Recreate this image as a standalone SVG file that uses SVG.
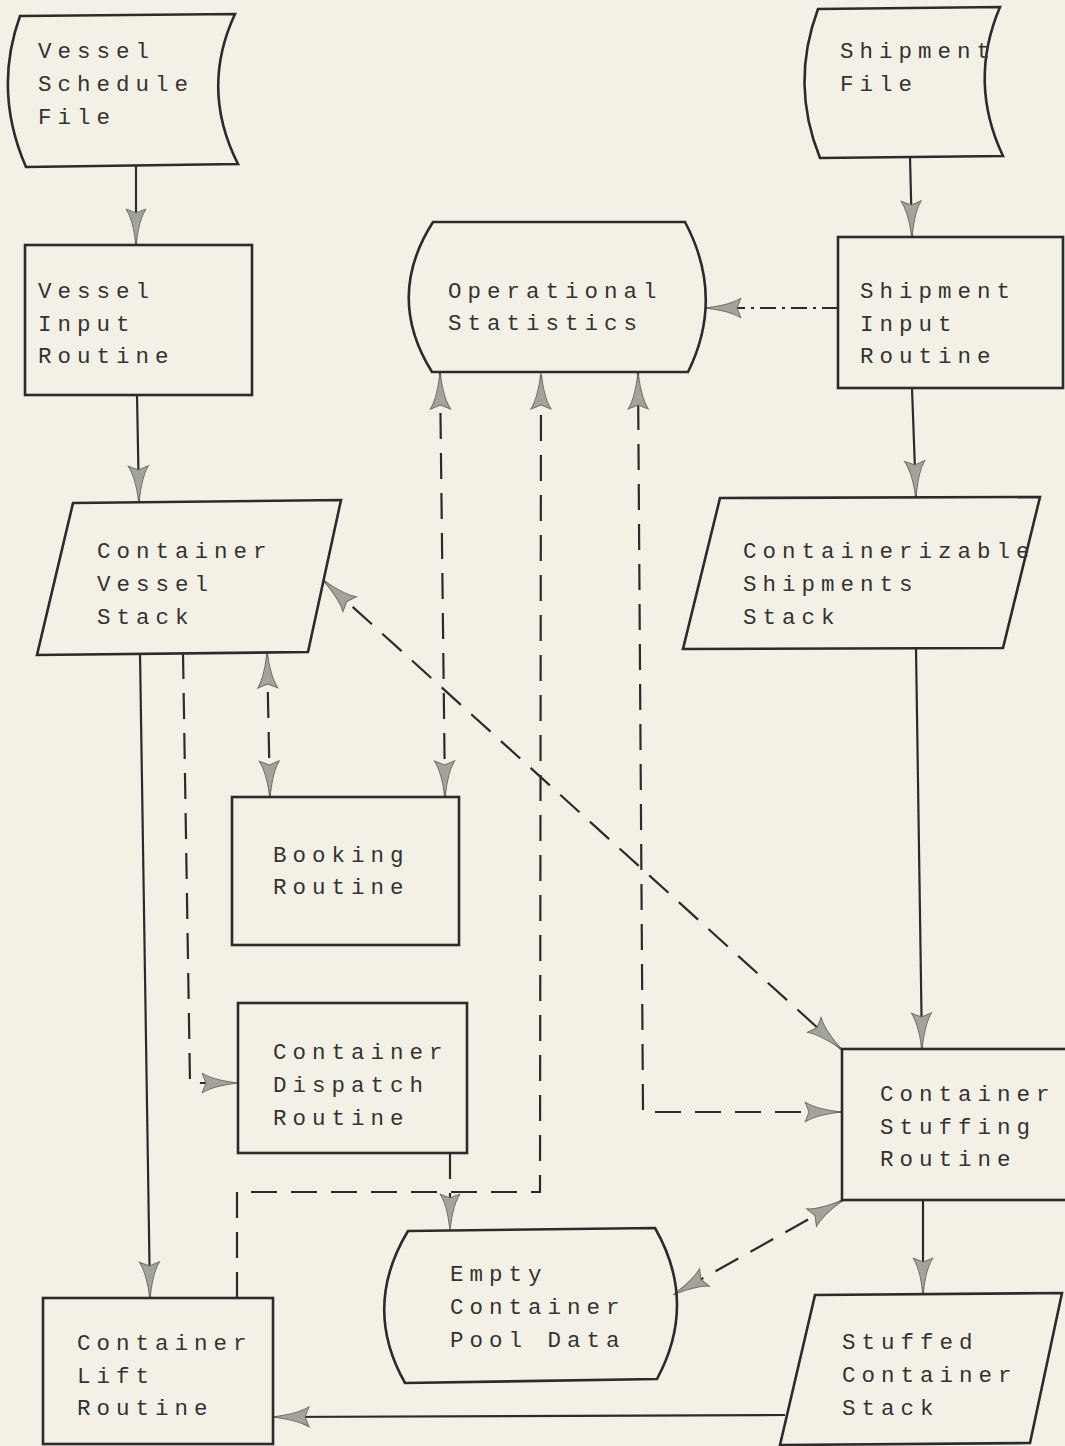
<svg xmlns="http://www.w3.org/2000/svg" width="1065" height="1446" viewBox="0 0 1065 1446">
<style>
.bg{fill:#f3f1e6}
.n{fill:none;stroke:#2b2b2b;stroke-width:2.6;stroke-linejoin:miter}
.t{font-family:"Liberation Mono",monospace;font-size:22.5px;letter-spacing:6px;fill:#333}
.c{fill:none;stroke:#2b2b2b;stroke-width:2.2}
.d{stroke-dasharray:26 14}
.dd{stroke-dasharray:16 6 3 6}
.e{marker-end:url(#ah)}
.b{marker-start:url(#ah);marker-end:url(#ah)}
</style>
<defs>
<marker id="ah" markerUnits="userSpaceOnUse" markerWidth="42" markerHeight="26" viewBox="-39 -13 42 26" refX="0" refY="0" orient="auto-start-reverse">
<path d="M0,0 C-10,-1.5 -25,-3 -36,-10 L-32,0 L-36,10 C-25,3 -10,1.5 0,0 Z" fill="#a3a39c" stroke="#707069" stroke-width="1"/>
</marker>
</defs>
<rect class="bg" x="0" y="0" width="1065" height="1446"/>

<g id="connectors">
<path class="c e" d="M136,166 L136,245"/>
<path class="c e" d="M137,395 L139,502"/>
<path class="c e" d="M910,157 L912,237"/>
<path class="c e" d="M912,388 L916,497"/>
<path class="c dd e" d="M838,308 L705,308"/>
<path class="c e" d="M140,653 L150,1298"/>
<path class="c d e" d="M183,653 L190,1083 L238,1083"/>
<path class="c d b" d="M267,652 L270,797"/>
<path class="c d b" d="M440,373 L445,797"/>
<path class="c d e" d="M237,1298 L237,1192 L540,1192 L541,373"/>
<path class="c d b" d="M841,1112 L643,1112 L638,373"/>
<path class="c d b" d="M323,580 L841,1049"/>
<path class="c d e" d="M450,1153 L450,1230"/>
<path class="c d b" d="M843,1200 L673,1295"/>
<path class="c e" d="M923,1200 L923,1294"/>
<path class="c e" d="M916,648 L922,1049"/>
<path class="c e" d="M785,1415 L273,1417"/>
</g>

<g id="vessel-schedule-file">
<path class="n" d="M20,16 L235,14 Q200,89 238,164 L26,167 Q-7,91 20,16 Z"/>
<text class="t"><tspan x="38" y="58">Vessel</tspan><tspan x="38" y="91">Schedule</tspan><tspan x="38" y="124">File</tspan></text>
</g>

<g id="shipment-file">
<path class="n" d="M818,9 L1000,7 Q968,82 1003,156 L820,158 Q790,84 818,9 Z"/>
<text class="t"><tspan x="840" y="58">Shipment</tspan><tspan x="840" y="91">File</tspan></text>
</g>

<g id="vessel-input-routine">
<rect class="n" x="25" y="245" width="227" height="150"/>
<text class="t"><tspan x="38" y="298">Vessel</tspan><tspan x="38" y="331">Input</tspan><tspan x="38" y="363">Routine</tspan></text>
</g>

<g id="operational-statistics">
<path class="n" d="M433,222 L685,222 Q725,297 688,372 L432,372 Q385,297 433,222 Z"/>
<text class="t"><tspan x="448" y="298">Operational</tspan><tspan x="448" y="330">Statistics</tspan></text>
</g>

<g id="shipment-input-routine">
<rect class="n" x="838" y="237" width="225" height="151"/>
<text class="t"><tspan x="860" y="298">Shipment</tspan><tspan x="860" y="331">Input</tspan><tspan x="860" y="363">Routine</tspan></text>
</g>

<g id="container-vessel-stack">
<path class="n" d="M73,503 L341,500 L308,652 L37,655 Z"/>
<text class="t"><tspan x="97" y="558">Container</tspan><tspan x="97" y="591">Vessel</tspan><tspan x="97" y="624">Stack</tspan></text>
</g>

<g id="containerizable-shipments-stack">
<path class="n" d="M720,498 L1040,497 L1003,648 L683,649 Z"/>
<text class="t"><tspan x="743" y="558">Containerizable</tspan><tspan x="743" y="591">Shipments</tspan><tspan x="743" y="624">Stack</tspan></text>
</g>

<g id="booking-routine">
<rect class="n" x="232" y="797" width="227" height="148"/>
<text class="t"><tspan x="273" y="862">Booking</tspan><tspan x="273" y="894">Routine</tspan></text>
</g>

<g id="container-dispatch-routine">
<rect class="n" x="238" y="1003" width="229" height="150"/>
<text class="t"><tspan x="273" y="1059">Container</tspan><tspan x="273" y="1092">Dispatch</tspan><tspan x="273" y="1125">Routine</tspan></text>
</g>

<g id="container-stuffing-routine">
<rect class="n" x="842" y="1049" width="240" height="151"/>
<text class="t"><tspan x="880" y="1101">Container</tspan><tspan x="880" y="1134">Stuffing</tspan><tspan x="880" y="1166">Routine</tspan></text>
</g>

<g id="empty-container-pool-data">
<path class="n" d="M408,1231 L655,1228 Q698,1303 657,1379 L405,1383 Q362,1307 408,1231 Z"/>
<text class="t"><tspan x="450" y="1281">Empty</tspan><tspan x="450" y="1314">Container</tspan><tspan x="450" y="1347">Pool Data</tspan></text>
</g>

<g id="container-lift-routine">
<rect class="n" x="43" y="1298" width="230" height="146"/>
<text class="t"><tspan x="77" y="1350">Container</tspan><tspan x="77" y="1383">Lift</tspan><tspan x="77" y="1415">Routine</tspan></text>
</g>

<g id="stuffed-container-stack">
<path class="n" d="M815,1295 L1062,1293 L1030,1443 L780,1445 Z"/>
<text class="t"><tspan x="842" y="1349">Stuffed</tspan><tspan x="842" y="1382">Container</tspan><tspan x="842" y="1415">Stack</tspan></text>
</g>
</svg>
